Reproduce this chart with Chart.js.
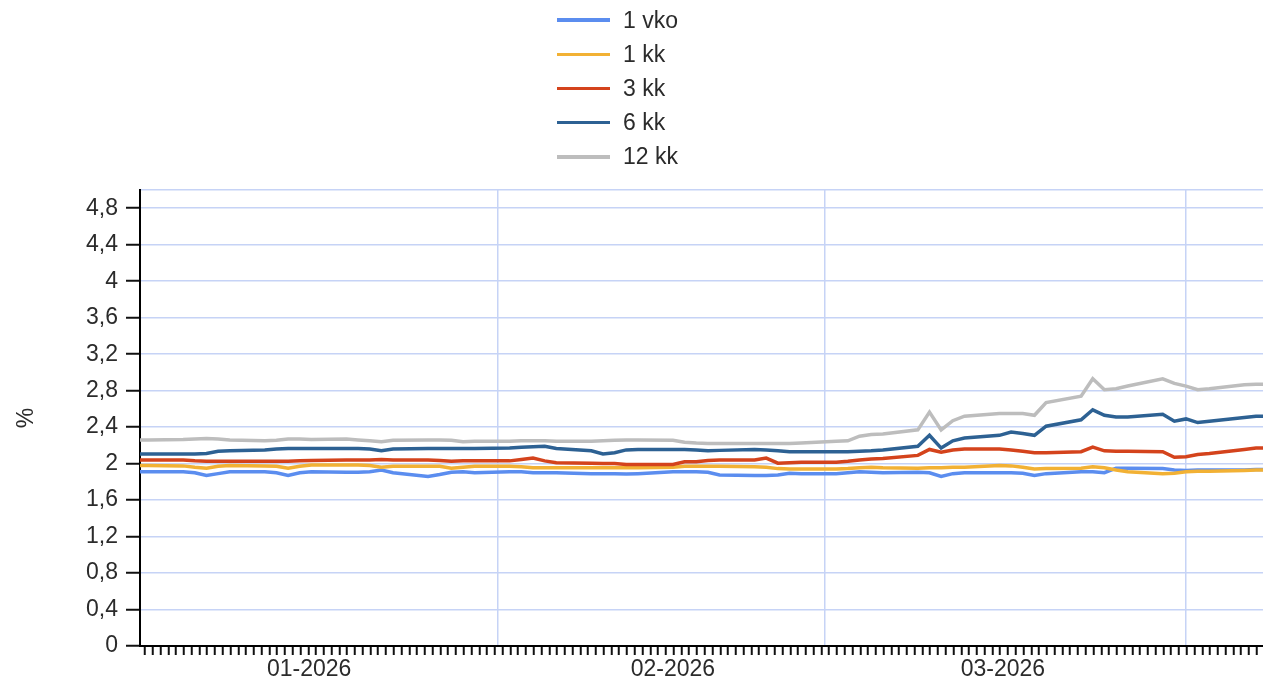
<!DOCTYPE html>
<html>
<head>
<meta charset="utf-8">
<script src="https://cdn.jsdelivr.net/npm/chart.js@4.4.0/dist/chart.umd.min.js"></script>
<style>
  html, body { margin: 0; padding: 0; background: #fff; overflow: hidden; }
  #wrap { position: relative; width: 1263px; height: 684px; }
  #legend { position: absolute; left: 557px; top: 3px; font: 23px "Liberation Sans", Arial, sans-serif; color: #2b2b2b; }
  .row { height: 34.2px; display: flex; align-items: center; }
  .swatch { width: 53px; height: 3.5px; margin-right: 13px; }
</style>
</head>
<body>
<div id="wrap">
  <canvas id="chart"></canvas>
  <div id="legend"></div>
</div>
<script>
var dates = [
  '2025-12-31', '2026-01-02',
  '2026-01-05', '2026-01-06', '2026-01-07', '2026-01-08', '2026-01-09',
  '2026-01-12', '2026-01-13', '2026-01-14', '2026-01-15', '2026-01-16',
  '2026-01-19', '2026-01-20', '2026-01-21', '2026-01-22', '2026-01-23',
  '2026-01-26', '2026-01-27', '2026-01-28', '2026-01-29', '2026-01-30',
  '2026-02-02', '2026-02-03', '2026-02-04', '2026-02-05', '2026-02-06',
  '2026-02-09', '2026-02-10', '2026-02-11', '2026-02-12', '2026-02-13',
  '2026-02-16', '2026-02-17', '2026-02-18', '2026-02-19', '2026-02-20',
  '2026-02-23', '2026-02-24', '2026-02-25', '2026-02-26', '2026-02-27',
  '2026-03-02', '2026-03-03', '2026-03-04', '2026-03-05', '2026-03-06',
  '2026-03-09', '2026-03-10', '2026-03-11', '2026-03-12', '2026-03-13',
  '2026-03-16', '2026-03-17', '2026-03-18', '2026-03-19', '2026-03-20',
  '2026-03-23', '2026-03-24', '2026-03-25', '2026-03-26', '2026-03-27',
  '2026-03-30', '2026-03-31', '2026-04-01', '2026-04-02', '2026-04-03',
  '2026-04-06', '2026-04-07', '2026-04-08'
];

var vko1 = [
  1.91, 1.91,
  1.91, 1.90, 1.87, 1.89, 1.91,
  1.91, 1.90, 1.87, 1.90, 1.91,
  1.905, 1.905, 1.91, 1.93, 1.90,
  1.86, 1.88, 1.905, 1.91, 1.90,
  1.91, 1.91, 1.90, 1.90, 1.90,
  1.89, 1.89, 1.89, 1.885, 1.89,
  1.91, 1.91, 1.91, 1.905, 1.875,
  1.87, 1.87, 1.875, 1.895, 1.89,
  1.89, 1.90, 1.91, 1.905, 1.90,
  1.905, 1.90, 1.86, 1.89, 1.90,
  1.90, 1.90, 1.895, 1.87, 1.89,
  1.91, 1.91, 1.90, 1.95, 1.95,
  1.945, 1.93, 1.925, 1.93, 1.93,
  1.93, 1.935, 1.935
];
var kk1 = [
  1.98, 1.98,
  1.975, 1.96, 1.95, 1.97, 1.98,
  1.975, 1.97, 1.95, 1.97, 1.985,
  1.985, 1.985, 1.98, 1.96, 1.97,
  1.97, 1.97, 1.95, 1.96, 1.97,
  1.97, 1.965, 1.955, 1.955, 1.955,
  1.955, 1.955, 1.955, 1.955, 1.955,
  1.96, 1.97, 1.97, 1.97, 1.97,
  1.965, 1.96, 1.945, 1.94, 1.94,
  1.94, 1.945, 1.955, 1.96, 1.955,
  1.95, 1.955, 1.955, 1.96, 1.96,
  1.98, 1.975, 1.96, 1.94, 1.945,
  1.95, 1.965, 1.955, 1.93, 1.91,
  1.89, 1.895, 1.91, 1.915, 1.915,
  1.925, 1.93, 1.93
];
var kk3 = [
  2.04, 2.04,
  2.04, 2.03, 2.025, 2.025, 2.025,
  2.025, 2.025, 2.025, 2.03, 2.035,
  2.04, 2.04, 2.04, 2.045, 2.04,
  2.04, 2.035, 2.025, 2.03, 2.03,
  2.03, 2.045, 2.06, 2.03, 2.01,
  2.005, 2.0, 2.0, 1.99, 1.99,
  1.99, 2.02, 2.02, 2.035, 2.04,
  2.04, 2.06, 2.005, 2.01, 2.015,
  2.015, 2.025, 2.04, 2.05, 2.055,
  2.09, 2.155, 2.125, 2.15, 2.16,
  2.16, 2.15, 2.135, 2.12, 2.12,
  2.13, 2.18, 2.14, 2.135, 2.135,
  2.13, 2.07, 2.075, 2.10, 2.11,
  2.155, 2.17, 2.17
];
var kk6 = [
  2.105, 2.105,
  2.105, 2.105, 2.11, 2.135, 2.14,
  2.15, 2.16, 2.165, 2.165, 2.165,
  2.165, 2.165, 2.16, 2.14, 2.16,
  2.165, 2.165, 2.165, 2.165, 2.165,
  2.17, 2.18, 2.185, 2.19, 2.165,
  2.14, 2.105, 2.12, 2.15, 2.155,
  2.155, 2.155, 2.15, 2.14, 2.145,
  2.155, 2.15, 2.14, 2.13, 2.13,
  2.13, 2.13, 2.135, 2.14, 2.15,
  2.19, 2.31, 2.17, 2.25, 2.28,
  2.31, 2.345, 2.33, 2.31, 2.41,
  2.48, 2.59, 2.53, 2.51, 2.51,
  2.54, 2.465, 2.49, 2.45, 2.465,
  2.505, 2.52, 2.52
];
var kk12 = [
  2.26, 2.26,
  2.265, 2.27, 2.275, 2.27, 2.26,
  2.25, 2.255, 2.27, 2.27, 2.265,
  2.27, 2.26, 2.25, 2.24, 2.255,
  2.26, 2.26, 2.255, 2.24, 2.245,
  2.245, 2.25, 2.25, 2.25, 2.245,
  2.245, 2.25, 2.255, 2.26, 2.26,
  2.255, 2.235, 2.225, 2.22, 2.22,
  2.22, 2.22, 2.22, 2.22, 2.225,
  2.245, 2.25, 2.30, 2.32, 2.325,
  2.37, 2.565, 2.37, 2.47, 2.52,
  2.55, 2.55, 2.55, 2.53, 2.67,
  2.74, 2.93, 2.81, 2.82, 2.85,
  2.93, 2.88, 2.85, 2.81, 2.82,
  2.865, 2.87, 2.87
];

var seriesNames = ['1 vko', '1 kk', '3 kk', '6 kk', '12 kk'];
var seriesValues = [vko1, kk1, kk3, kk6, kk12];
var seriesColors = ['#5b8def', '#f2b134', '#d4431c', '#2d6193', '#bdbdbd'];

var monthLabels = ['01-2026', '02-2026', '03-2026'];
var monthLabelDays = [14.8, 46, 74.3];   // where the month labels sit (days from 1.1.2026)
var monthStartDays = [31, 59, 90];       // vertical grid lines: 1.2., 1.3., 1.4.
var xMin = 0.3;
var xMax = 96.6;
var xTickStep = 2 / 3;
var yTickValues = [0, 0.4, 0.8, 1.2, 1.6, 2, 2.4, 2.8, 3.2, 3.6, 4, 4.4, 4.8];
var yTickLabels = ['0', '0,4', '0,8', '1,2', '1,6', '2', '2,4', '2,8', '3,2', '3,6', '4', '4,4', '4,8'];
var yMax = 5;

var FONT = '"Liberation Sans", Arial, sans-serif';
var GRID = '#c6d3f6';
var TEXT = '#2b2b2b';

function dayOf(s) {
  var p = s.split('-');
  return (Date.UTC(+p[0], +p[1] - 1, +p[2]) - Date.UTC(2026, 0, 1)) / 86400000;
}

var datasets = [];
for (var i = 0; i < seriesNames.length; i++) {
  var pts = [];
  for (var j = 0; j < dates.length; j++) {
    pts.push({ x: dayOf(dates[j]), y: seriesValues[i][j] });
  }
  datasets.push({
    label: seriesNames[i],
    data: pts,
    borderColor: seriesColors[i],
    backgroundColor: seriesColors[i],
    borderWidth: 3.5,
    pointRadius: 0,
    tension: 0,
    clip: 0,
    order: seriesNames.length - i
  });
}

var ctx = document.getElementById('chart').getContext('2d');
var chart = new Chart(ctx, {
  type: 'line',
  data: { datasets: datasets },
  options: {
    responsive: true,
    maintainAspectRatio: false,
    animation: false,
    layout: { padding: { top: 190, left: 0, right: 0, bottom: 0 } },
    plugins: { legend: { display: false }, tooltip: { enabled: false } },
    scales: {
      x: {
        type: 'linear',
        min: xMin,
        max: xMax,
        afterBuildTicks: function (scale) {
          var ticks = [];
          for (var v = xMin + 0.43; v <= xMax; v += xTickStep) {
            ticks.push({ value: v, kind: 'minor' });
          }
          monthStartDays.forEach(function (d) { ticks.push({ value: d, kind: 'month' }); });
          monthLabelDays.forEach(function (d, k) { ticks.push({ value: d, kind: 'label', text: monthLabels[k] }); });
          ticks.sort(function (a, b) { return a.value - b.value; });
          scale.ticks = ticks;
        },
        afterFit: function (scale) { scale.height = 38; },
        grid: {
          drawOnChartArea: true,
          color: function (c) { return c.tick && c.tick.kind === 'month' ? GRID : 'rgba(0,0,0,0)'; },
          lineWidth: 1.5,
          tickLength: 9,
          tickWidth: 2,
          tickColor: function (c) { return c.tick && c.tick.kind === 'minor' ? '#111' : 'rgba(0,0,0,0)'; }
        },
        border: { display: true, color: '#000', width: 2 },
        ticks: {
          autoSkip: false,
          maxRotation: 0,
          minRotation: 0,
          padding: 1,
          color: TEXT,
          font: { family: FONT, size: 23 },
          callback: function (value, index, ticks) {
            var t = ticks[index];
            return t && t.kind === 'label' ? t.text : '';
          }
        }
      },
      y: {
        min: 0,
        max: yMax,
        afterBuildTicks: function (scale) {
          var ticks = yTickValues.map(function (v, k) { return { value: v, text: yTickLabels[k] }; });
          ticks.push({ value: yMax, text: '' });
          scale.ticks = ticks;
        },
        afterFit: function (scale) { scale.width = 140; },
        grid: {
          color: GRID,
          lineWidth: 1.5,
          tickLength: 14,
          tickWidth: 2,
          tickColor: function (c) { return c.tick && c.tick.value >= yMax ? 'rgba(0,0,0,0)' : '#111'; }
        },
        border: { display: true, color: '#000', width: 2 },
        ticks: {
          padding: 8,
          color: TEXT,
          font: { family: FONT, size: 23 },
          callback: function (value, index, ticks) {
            return ticks[index] ? ticks[index].text : '';
          }
        },
        title: {
          display: true,
          text: '%',
          color: TEXT,
          font: { family: FONT, size: 23 },
          padding: { top: 13, bottom: 0 }
        }
      }
    }
  }
});

// legend as a vertical list, like the original
var legend = document.getElementById('legend');
chart.data.datasets.forEach(function (ds) {
  var row = document.createElement('div');
  row.className = 'row';
  var sw = document.createElement('span');
  sw.className = 'swatch';
  sw.style.background = ds.borderColor;
  var txt = document.createElement('span');
  txt.textContent = ds.label;
  row.appendChild(sw);
  row.appendChild(txt);
  legend.appendChild(row);
});
</script>
</body>
</html>
